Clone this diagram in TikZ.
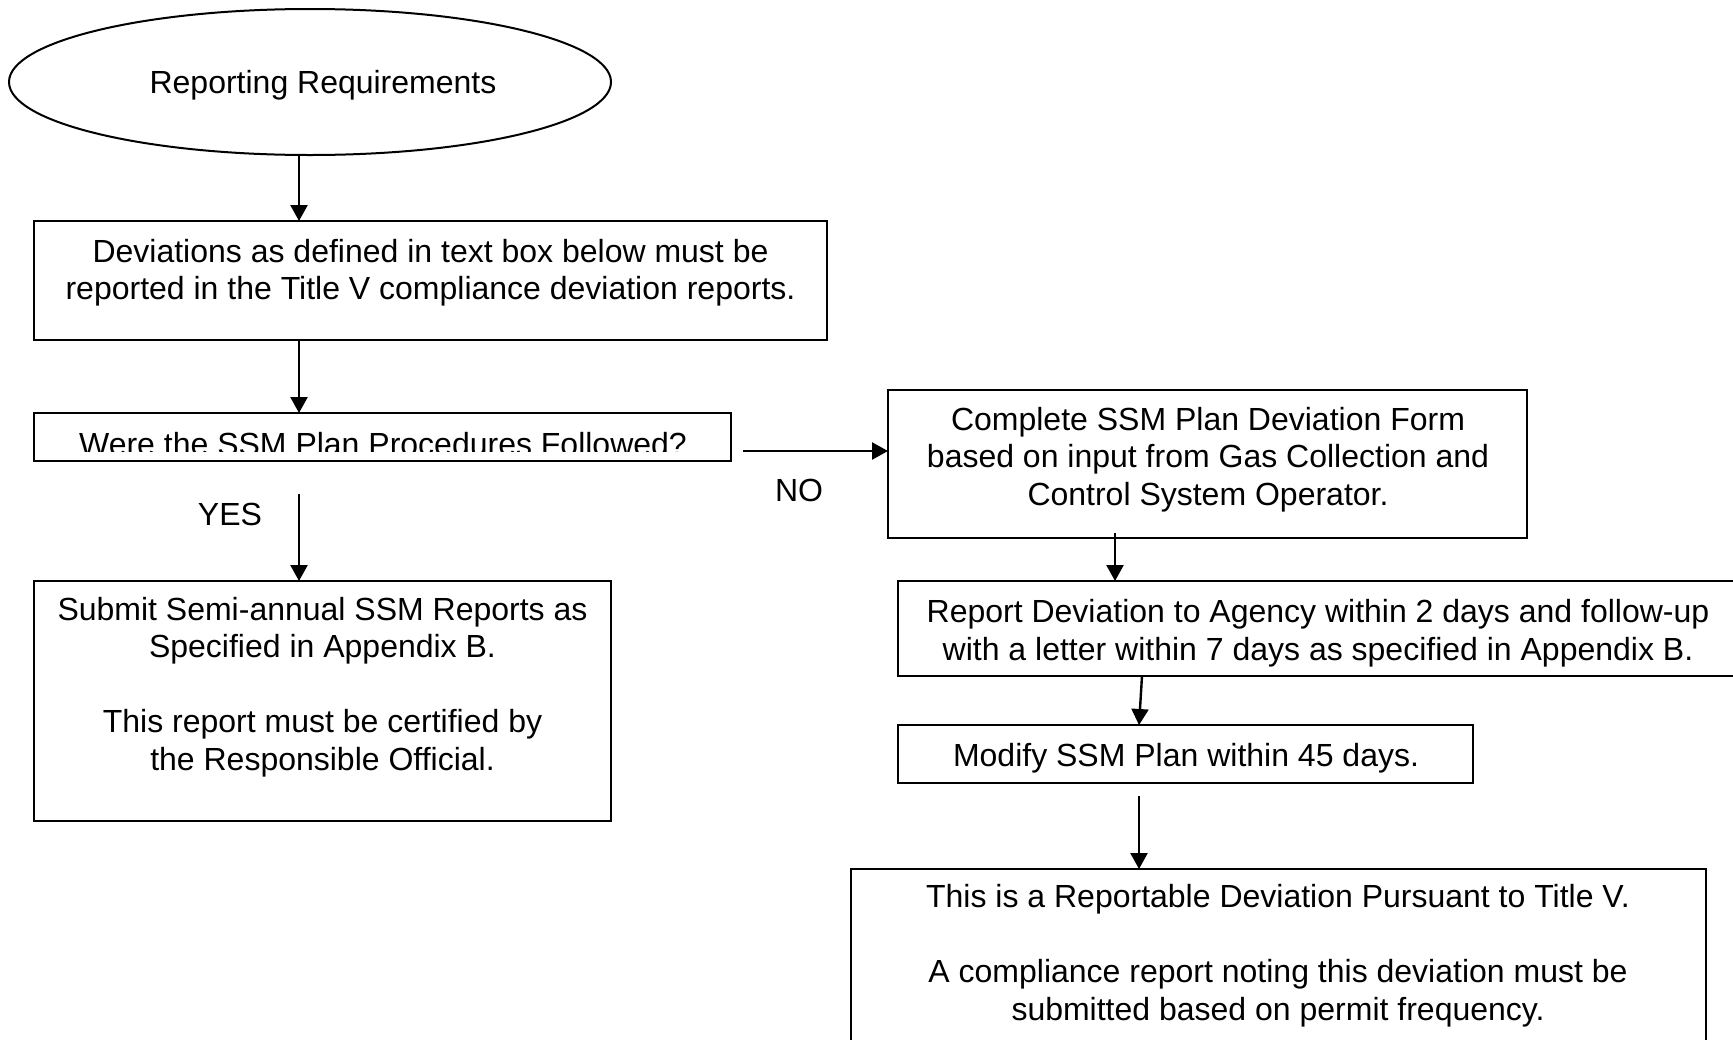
\documentclass[tikz,border=0pt]{standalone}
\usepackage{fontspec}
\setmainfont{Liberation Sans}
\usetikzlibrary{arrows.meta,shapes.geometric,calc}
\begin{document}
\begin{tikzpicture}[x=0.5pt,y=-0.5pt,
  box/.style={draw, line width=1pt, rectangle, inner sep=0pt, outer sep=0pt, anchor=north west},
  txt/.style={inner sep=0pt, anchor=base, align=center, font=\fontsize{16}{18.75}\selectfont},
  arr/.style={line width=1.2pt, -{Triangle[length=8pt,width=8.5pt]}}]
\useasboundingbox (0,0) rectangle (1733,1039);
\clip (0,0) rectangle (1733,1039);
% start ellipse
\node[draw, ellipse, line width=1pt, minimum width=301pt, minimum height=73pt, inner sep=0pt, outer sep=0pt] (start) at (310,82) {};
\node[txt] (starttxt) at (323,93) {Reporting Requirements};
% boxes (multi-line texts are placed by the baseline of their last line)
\node[box, minimum width=396.5pt, minimum height=59.5pt] (dev) at (34,221) {};
\node[txt] (devtxt) at (430.5,299.5) {Deviations as defined in text box below must be\\reported in the Title V compliance deviation reports.};
\node[box, minimum width=348.5pt, minimum height=24pt] (q) at (34,413) {};
\begin{scope}
\clip (34,413) rectangle (731,451);
\node[txt] (qtxt) at (383,455) {Were the SSM Plan Procedures Followed?};
\end{scope}
\node[box, minimum width=288.5pt, minimum height=120pt] (submit) at (34,581) {};
\node[txt] (submittxt) at (322.5,770) {Submit Semi-annual SSM Reports as\\Specified in Appendix B.\\[18.75pt]This report must be certified by\\the Responsible Official.};
\node[box, minimum width=319.5pt, minimum height=74pt] (form) at (888,390) {};
\node[txt] (formtxt) at (1208,505) {Complete SSM Plan Deviation Form\\based on input from Gas Collection and\\Control System Operator.};
\node[box, minimum width=423.5pt, minimum height=47.5pt] (report) at (898,581) {};
\node[txt] (reporttxt) at (1318,660) {Report Deviation to Agency within 2 days and follow-up\\with a letter within 7 days as specified in Appendix B.};
\node[box, minimum width=287.5pt, minimum height=29pt] (modify) at (898,725) {};
\node[txt] (modifytxt) at (1186,766) {Modify SSM Plan within 45 days.};
\node[box, minimum width=427.5pt, minimum height=100pt] (final) at (851,869) {};
\node[txt] (finaltxt) at (1278,1020) {This is a Reportable Deviation Pursuant to Title V.\\[18.75pt]A compliance report noting this deviation must be\\submitted based on permit frequency.};
% labels
\node[txt] (yes) at (230,525) {YES};
\node[txt] (no) at (799,501) {NO};
% connectors
\coordinate (cL) at (299,0);
\draw[arr] (start.south -| cL) -- (dev.north -| cL);
\draw[arr] (dev.south -| cL) -- (q.north -| cL);
\draw[arr] ($(q.south -| cL)+(0,33)$) -- (submit.north -| cL);
\coordinate (noS) at (743,451);
\draw[arr] (noS) -- (noS -| form.west);
\coordinate (cR) at (1115,0);
\draw[arr] ($(form.south -| cR)+(0,-5)$) -- (report.north -| cR);
\coordinate (c6a) at (1142,0);
\coordinate (c6b) at (1139,0);
\draw[arr] (report.south -| c6a) -- (modify.north -| c6b);
\draw[arr] ($(modify.south -| c6b)+(0,13)$) -- (final.north -| c6b);
\end{tikzpicture}
\end{document}
